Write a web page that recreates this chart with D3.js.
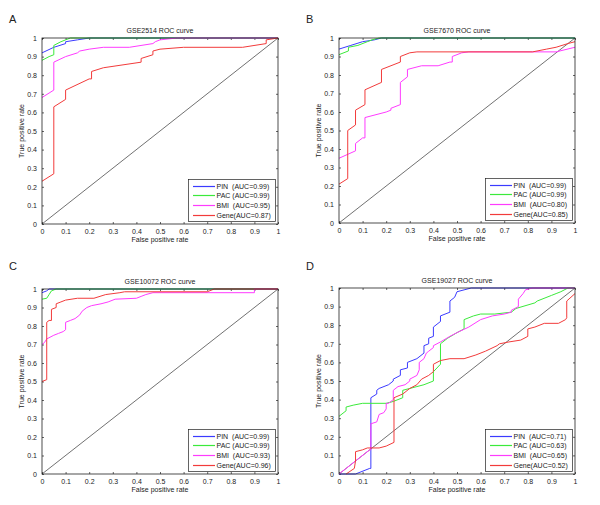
<!DOCTYPE html>
<html><head><meta charset="utf-8">
<script src="https://cdn.jsdelivr.net/npm/d3@7"></script>
<style>body{margin:0;background:#fff}svg{display:block}text{font-family:"Liberation Sans",Arial,sans-serif;fill:#222}</style>
</head><body>
<script>
// ---------- data ----------
const panelLetters = ["A","B","C","D"];
const panelTitles = ["GSE2514 ROC curve","GSE7670 ROC curve","GSE10072 ROC curve","GSE19027 ROC curve"];
const seriesNames = ["PIN  ","PAC ","BMI  ","Gene"];
const seriesColors = ["#3b3bff","#3bea3b","#ff3bff","#f23b3b"];
const aucA = ["0.99","0.99","0.95","0.87"];
const aucB = ["0.99","0.99","0.80","0.85"];
const aucC = ["0.99","0.99","0.93","0.96"];
const aucD = ["0.71","0.63","0.65","0.52"];
const tickValues = [0,0.1,0.2,0.3,0.4,0.5,0.6,0.7,0.8,0.9,1];
const tickLabels = ["0","0.1","0.2","0.3","0.4","0.5","0.6","0.7","0.8","0.9","1"];

// ROC points [false positive rate, true positive rate]
const A_PIN = [[0,0.92],[0.05,0.95],[0.1,0.97],[0.1,0.98],[0.15,0.99],[0.2,1],[1,1]];
const A_PAC = [[0,0.88],[0.03,0.9],[0.05,0.91],[0.05,0.96],[0.08,0.98],[0.1,0.99],[0.12,1],[1,1]];
const A_BMI = [[0,0.68],[0.05,0.72],[0.05,0.87],[0.1,0.9],[0.15,0.92],[0.16,0.93],[0.2,0.94],[0.26,0.95],[0.37,0.95],[0.47,0.97],[0.48,0.98],[0.5,0.99],[0.57,1],[1,1]];
const A_Gene = [[0,0.23],[0.05,0.27],[0.05,0.63],[0.1,0.67],[0.1,0.72],[0.2,0.78],[0.21,0.78],[0.21,0.82],[0.26,0.84],[0.42,0.87],[0.42,0.89],[0.47,0.91],[0.47,0.93],[0.5,0.94],[0.6,0.95],[0.85,0.95],[0.95,0.97],[0.95,0.99],[1,1]];

const B_PIN = [[0,0.94],[0.05,0.96],[0.1,0.98],[0.15,0.99],[0.18,1],[1,1]];
const B_PAC = [[0,0.91],[0.04,0.93],[0.04,0.95],[0.08,0.96],[0.12,0.98],[0.14,0.99],[0.17,1],[1,1]];
const B_BMI = [[0,0.35],[0.07,0.39],[0.07,0.43],[0.1,0.46],[0.11,0.46],[0.11,0.57],[0.2,0.6],[0.22,0.61],[0.22,0.62],[0.26,0.64],[0.26,0.76],[0.29,0.79],[0.29,0.83],[0.35,0.85],[0.42,0.85],[0.47,0.87],[0.48,0.87],[0.48,0.9],[0.52,0.92],[0.55,0.925],[0.92,0.925],[1,0.95]];
const B_Gene = [[0,0.21],[0.037,0.24],[0.037,0.5],[0.07,0.53],[0.07,0.61],[0.11,0.64],[0.11,0.72],[0.18,0.76],[0.18,0.83],[0.26,0.87],[0.26,0.9],[0.3,0.92],[0.33,0.925],[0.82,0.925],[0.88,0.94],[0.92,0.95],[0.97,0.97],[1,0.98]];

const C_PIN = [[0,0.98],[0.02,0.99],[0.03,1],[1,1]];
const C_PAC = [[0,0.945],[0.02,0.95],[0.03,0.97],[0.04,0.99],[0.06,1],[1,1]];
const C_BMI = [[0,0.7],[0.01,0.71],[0.02,0.73],[0.05,0.75],[0.07,0.76],[0.09,0.77],[0.1,0.78],[0.1,0.82],[0.12,0.83],[0.14,0.84],[0.16,0.86],[0.17,0.88],[0.19,0.9],[0.21,0.91],[0.25,0.92],[0.28,0.93],[0.31,0.945],[0.4,0.95],[0.42,0.96],[0.44,0.97],[0.47,0.98],[0.9,0.98],[0.9,1],[1,1]];
const C_Gene = [[0,0.5],[0.02,0.51],[0.02,0.82],[0.03,0.83],[0.04,0.83],[0.04,0.89],[0.06,0.9],[0.06,0.92],[0.08,0.93],[0.1,0.94],[0.15,0.95],[0.22,0.95],[0.27,0.97],[0.33,0.98],[0.35,0.985],[0.7,0.985],[0.73,1],[1,1]];

const D_PIN = [[0,0],[0.07,0],[0.13,0.03],[0.135,0.03],[0.135,0.41],[0.16,0.43],[0.16,0.45],[0.17,0.46],[0.21,0.48],[0.23,0.5],[0.23,0.51],[0.26,0.53],[0.26,0.56],[0.29,0.57],[0.29,0.6],[0.33,0.62],[0.36,0.65],[0.36,0.69],[0.38,0.7],[0.38,0.73],[0.4,0.74],[0.4,0.79],[0.43,0.82],[0.43,0.85],[0.47,0.87],[0.47,0.93],[0.49,0.95],[0.5,0.98],[0.53,0.99],[0.56,1],[1,1]];
const D_PAC = [[0,0.31],[0.03,0.34],[0.03,0.36],[0.06,0.37],[0.1,0.38],[0.2,0.38],[0.23,0.39],[0.27,0.41],[0.27,0.45],[0.3,0.46],[0.33,0.47],[0.36,0.48],[0.4,0.5],[0.4,0.55],[0.43,0.59],[0.43,0.7],[0.46,0.73],[0.5,0.76],[0.53,0.78],[0.53,0.83],[0.57,0.85],[0.6,0.86],[0.66,0.86],[0.73,0.87],[0.75,0.89],[0.83,0.92],[0.84,0.93],[0.9,0.96],[0.92,0.97],[0.94,0.98],[0.97,1],[1,1]];
const D_BMI = [[0,0],[0.07,0.07],[0.13,0.13],[0.135,0.13],[0.135,0.27],[0.16,0.28],[0.17,0.32],[0.19,0.33],[0.2,0.35],[0.2,0.38],[0.21,0.38],[0.23,0.4],[0.23,0.45],[0.25,0.47],[0.28,0.48],[0.3,0.5],[0.3,0.51],[0.33,0.53],[0.34,0.56],[0.34,0.6],[0.36,0.62],[0.37,0.65],[0.38,0.66],[0.4,0.68],[0.4,0.69],[0.43,0.71],[0.47,0.74],[0.5,0.76],[0.55,0.79],[0.6,0.83],[0.65,0.85],[0.7,0.86],[0.73,0.87],[0.73,0.88],[0.76,0.9],[0.76,0.94],[0.78,0.97],[0.79,0.99],[0.82,1],[1,1]];
const D_Gene = [[0.03,0],[0.065,0.03],[0.07,0.07],[0.07,0.12],[0.1,0.13],[0.12,0.14],[0.17,0.14],[0.2,0.15],[0.233,0.17],[0.233,0.41],[0.27,0.43],[0.3,0.46],[0.33,0.48],[0.35,0.51],[0.38,0.53],[0.4,0.55],[0.4,0.59],[0.43,0.61],[0.47,0.62],[0.53,0.62],[0.58,0.64],[0.62,0.66],[0.67,0.69],[0.68,0.7],[0.72,0.71],[0.77,0.72],[0.8,0.74],[0.8,0.78],[0.83,0.79],[0.87,0.81],[0.93,0.81],[0.96,0.83],[0.965,0.84],[0.965,0.93],[1,0.97]];

const curves = [[A_PIN,A_PAC,A_BMI,A_Gene],[B_PIN,B_PAC,B_BMI,B_Gene],[C_PIN,C_PAC,C_BMI,C_Gene],[D_PIN,D_PAC,D_BMI,D_Gene]];
const aucs = [aucA,aucB,aucC,aucD];

// ---------- layout ----------
const boxes = [
  {x0:42, x1:278, y0:38, y1:224, lx:9, ly:23},
  {x0:339, x1:575, y0:38, y1:223, lx:306, ly:23},
  {x0:42, x1:278, y0:289, y1:474, lx:9, ly:270},
  {x0:339, x1:575, y0:288, y1:474, lx:306, ly:270}
];

const svg = d3.select("body").append("svg").attr("width",600).attr("height",505);

boxes.forEach((b,i)=>{
  const x = d3.scaleLinear().domain([0,1]).range([b.x0,b.x1]);
  const y = d3.scaleLinear().domain([0,1]).range([b.y1,b.y0]);
  const g = svg.append("g");

  g.append("text").attr("x",b.lx).attr("y",b.ly).attr("font-size",11).text(panelLetters[i]);
  g.append("text").attr("x",(b.x0+b.x1)/2).attr("y",b.y0-5).attr("font-size",7).attr("text-anchor","middle").text(panelTitles[i]);

  const fmt = (d,k)=>tickLabels[k];
  const axB = d3.axisBottom(x).tickValues(tickValues).tickFormat(fmt).tickSizeInner(-2).tickSizeOuter(0).tickPadding(5);
  const axT = d3.axisTop(x).tickValues(tickValues).tickFormat("").tickSizeInner(-2).tickSizeOuter(0);
  const axL = d3.axisLeft(y).tickValues(tickValues).tickFormat(fmt).tickSizeInner(-2).tickSizeOuter(0).tickPadding(5);
  const axR = d3.axisRight(y).tickValues(tickValues).tickFormat("").tickSizeInner(-2).tickSizeOuter(0);
  [[axB,`translate(0,${b.y1})`],[axT,`translate(0,${b.y0})`],[axL,`translate(${b.x0},0)`],[axR,`translate(${b.x1},0)`]].forEach(([ax,t])=>{
    const a = g.append("g").attr("class","axis").attr("transform",t).call(ax);
    a.selectAll("text").attr("font-size",7).attr("font-family","Liberation Sans, Arial, sans-serif").attr("fill","#222");
    a.selectAll(".tick line").attr("stroke","#222").attr("stroke-width",0.7);
    a.select(".domain").remove();
  });

  g.append("text").attr("x",(b.x0+b.x1)/2).attr("y",b.y1+18).attr("font-size",7).attr("text-anchor","middle").text("False positive rate");
  g.append("text").attr("transform",`translate(${b.x0-18},${(b.y0+b.y1)/2}) rotate(-90)`).attr("font-size",7).attr("text-anchor","middle").text("True positive rate");

  const line = d3.line().x(d=>x(d[0])).y(d=>y(d[1]));
  g.append("path").attr("d",line([[0,0],[1,1]])).attr("fill","none").attr("stroke","#111").attr("stroke-width",0.6);

  curves[i].forEach((c,k)=>{
    g.append("path").attr("d",line(c)).attr("fill","none").attr("stroke",seriesColors[k]).attr("stroke-width",1);
  });

  g.append("rect").attr("x",b.x0).attr("y",b.y0).attr("width",b.x1-b.x0).attr("height",b.y1-b.y0)
    .attr("fill","none").attr("stroke","#222").attr("stroke-width",0.8);

  // legend
  const lw=87, lh=42;
  const lx0 = b.x1-3-lw, ly0 = b.y1-3-lh;
  const lg = g.append("g");
  lg.append("rect").attr("x",lx0+0.5).attr("y",ly0+0.5).attr("width",lw).attr("height",lh).attr("fill","#ffffff").attr("stroke","#222").attr("stroke-width",0.7);
  seriesNames.forEach((n,k)=>{
    const yy = Math.round(ly0+6.5+k*9.7)+0.5;
    lg.append("path").attr("d",`M${lx0+5},${yy}H${lx0+27}`).attr("stroke",seriesColors[k]).attr("stroke-width",1.2).attr("fill","none");
    lg.append("text").attr("x",lx0+28.5).attr("y",yy+2.5).attr("font-size",7).attr("xml:space","preserve").style("white-space","pre").text(`${n}(AUC=${aucs[i][k]})`);
  });
});
</script>
</body></html>
